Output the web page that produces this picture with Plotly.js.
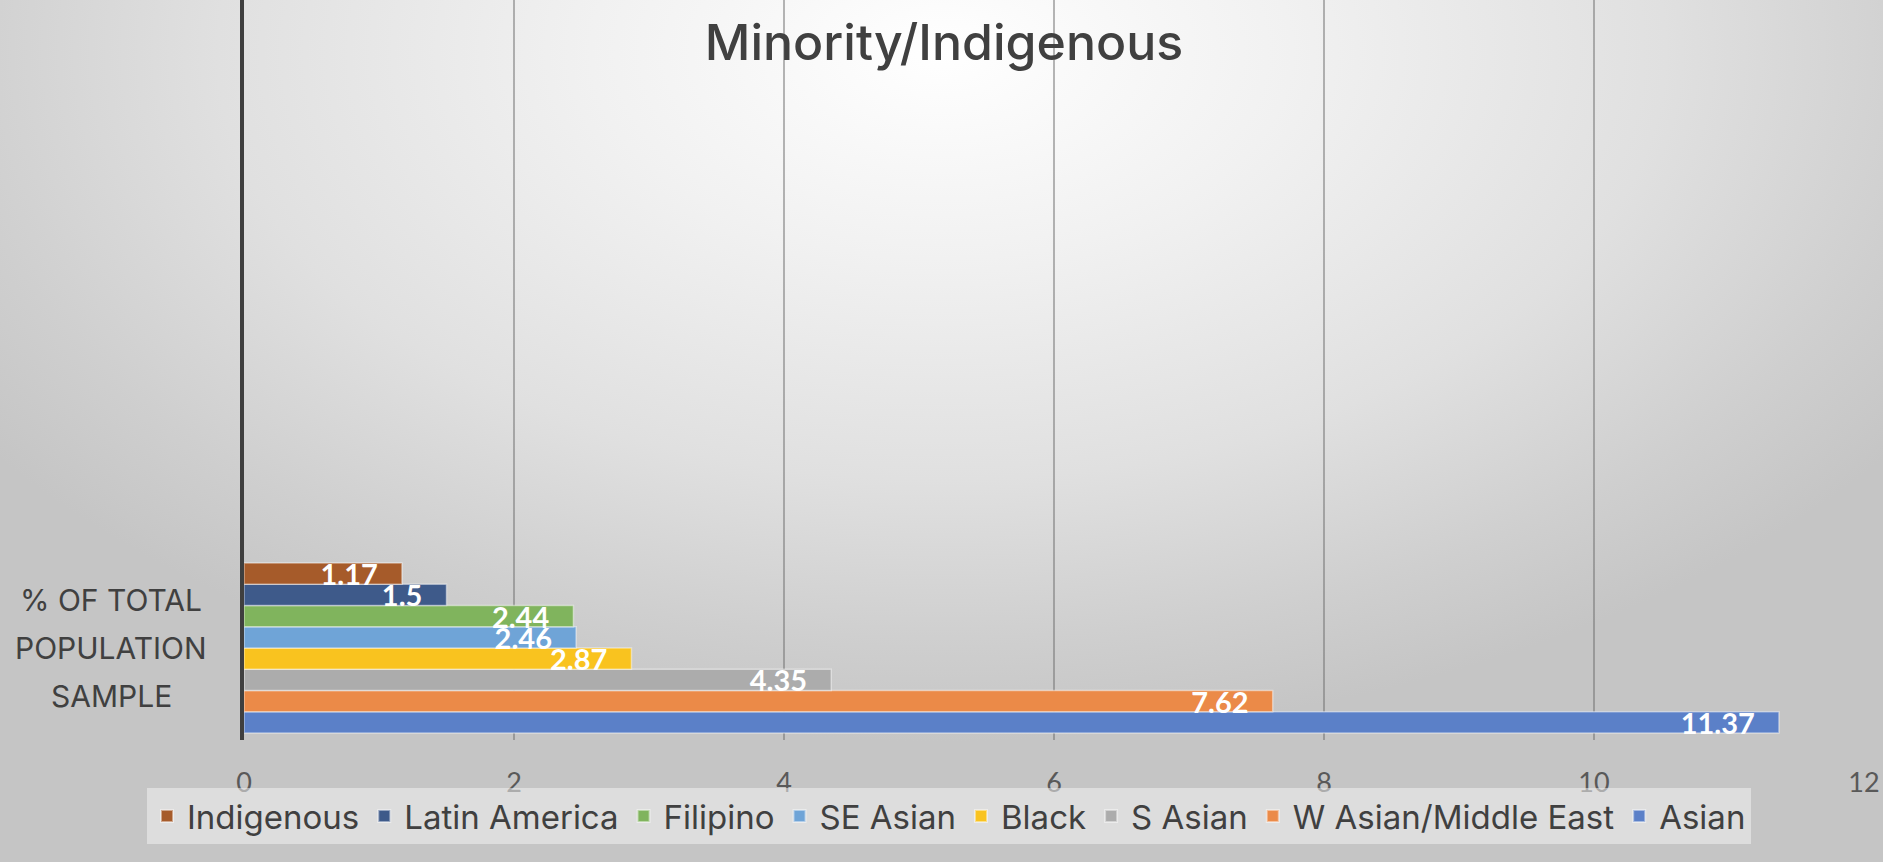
<!DOCTYPE html>
<html>
<head>
<meta charset="utf-8">
<script src="https://cdn.plot.ly/plotly-3.0.1.min.js"></script>
<style>
  html, body { margin: 0; padding: 0; }
  body {
    width: 1883px; height: 862px; overflow: hidden;
    background: radial-gradient(ellipse 62% 80% at 50% 6%, #ffffff 0%, #f1f1f1 30%, #e0e0e0 62%, #cfcfcf 85%, #c5c5c5 100%);
  }
  #chart { width: 1883px; height: 862px; }
</style>
</head>
<body>
<div id="chart"></div>
<script>
// ---- data ----
const categoryLines = ["% OF TOTAL", "POPULATION", "SAMPLE"];
const category = categoryLines.join("<br>");
const seriesNames = ["Asian", "W Asian/Middle East", "S Asian", "Black", "SE Asian", "Filipino", "Latin America", "Indigenous"];
const seriesValues = [11.37, 7.62, 4.35, 2.87, 2.46, 2.44, 1.5, 1.17];
const seriesColors = ["#5b80c8", "#eb8a48", "#acacac", "#f9c31f", "#6fa4d7", "#80b45d", "#3e5a8a", "#a65b2a"];
const xTicks = [0, 2, 4, 6, 8, 10, 12];
const titleText = "Minority/Indigenous";

const NBSP = "\u00a0\u00a0\u00a0";
const traces = seriesNames.map((name, i) => ({
  type: "bar",
  orientation: "h",
  name: name,
  y: [category],
  x: [seriesValues[i]],
  marker: { color: seriesColors[i], line: { color: "rgba(255,255,255,0.45)", width: 1.5 } },
  text: [String(seriesValues[i]) + NBSP],
  textposition: "inside",
  insidetextanchor: "end",
  constraintext: "none",
  textfont: { family: "Lato, 'Liberation Sans', sans-serif", size: 29, color: "#ffffff", weight: "bold" },
  hoverinfo: "x+name"
}));

const mainFont = "Inter, 'Open Sans', 'DejaVu Sans', sans-serif";
const LINE_GAP = 48;

const annotations = categoryLines.map((line, i) => ({
  text: line,
  xref: "paper", yref: "y",
  x: (111 - 244) / 1620, y: category,
  xanchor: "center", yanchor: "middle",
  yshift: ((categoryLines.length - 1) / 2 - i) * LINE_GAP,
  showarrow: false,
  font: { family: mainFont, size: 30, color: "#404040" }
}));

const layout = {
  width: 1883,
  height: 862,
  paper_bgcolor: "rgba(0,0,0,0)",
  plot_bgcolor: "rgba(0,0,0,0)",
  margin: { l: 244, r: 19, t: 0, b: 122, pad: 0 },
  barmode: "group",
  bargap: 0.076,
  bargroupgap: 0,
  showlegend: true,
  title: {
    text: titleText,
    font: { family: mainFont, size: 50, color: "#404040", weight: 500 },
    x: 944 / 1883, xanchor: "center",
    y: 1 - 42 / 862, yanchor: "middle"
  },
  xaxis: {
    range: [0, 12],
    tickvals: xTicks,
    ticktext: xTicks.map(String),
    showgrid: true,
    gridcolor: "rgba(110,110,110,0.5)",
    gridwidth: 1.5,
    zeroline: false,
    showline: false,
    ticks: "",
    ticklabelstandoff: 24,
    tickfont: { family: "Lato, 'Liberation Sans', sans-serif", size: 27, color: "#595959" },
    fixedrange: true
  },
  yaxis: {
    type: "category",
    range: [-0.5, 3.52],
    showticklabels: false,
    showgrid: false,
    zeroline: false,
    showline: true,
    linecolor: "#3f3f3f",
    linewidth: 4.5,
    ticks: "",
    fixedrange: true
  },
  legend: {
    orientation: "h",
    traceorder: "reversed",
    xref: "container", yref: "container",
    x: 949 / 1883, xanchor: "center",
    y: 1 - 788 / 862, yanchor: "top",
    bgcolor: "rgba(240,240,240,0.55)",
    borderwidth: 0,
    font: { family: mainFont, size: 33, color: "#404040" },
    itemsizing: "constant"
  },
  annotations: annotations
};

Plotly.newPlot("chart", traces, layout, { displayModeBar: false, staticPlot: true });
</script>
</body>
</html>
